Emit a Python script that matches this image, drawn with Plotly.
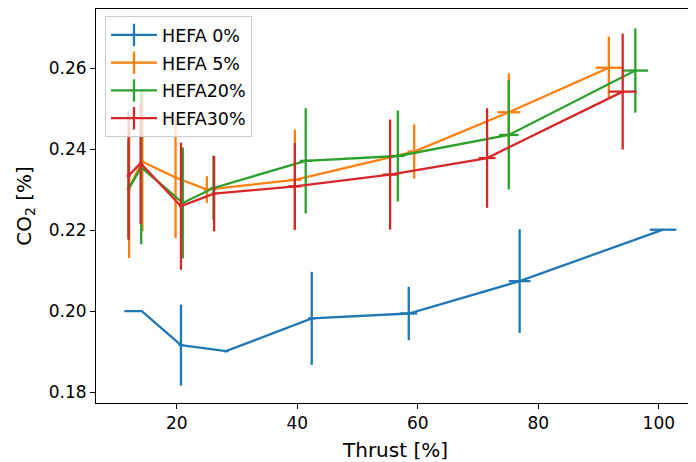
import plotly.graph_objects as go

# Thrust [%], CO2 [%] and error bars
thrust_0 = [11.3, 14.2, 20.7, 28.2, 42.4, 58.5, 76.9, 100.7]
co2_0 = [0.2000, 0.2000, 0.1916, 0.1901, 0.1982, 0.1994, 0.2074, 0.2201]
yerr_0 = [0, 0, 0.0100, 0, 0.0115, 0.0066, 0.0128, 0]
xerr_0 = [0, 0, 0.4, 0.4, 0.6, 1.4, 1.8, 2.2]

thrust_5 = [12.1, 14.3, 19.8, 25.0, 39.6, 59.4, 75.1, 91.7]
co2_5 = [0.2306, 0.2369, 0.2330, 0.2300, 0.2324, 0.2394, 0.2491, 0.2601]
yerr_5 = [0.0175, 0.0172, 0.0150, 0.0033, 0.0124, 0.0067, 0.0096, 0.0077]
xerr_5 = [0.3, 0.3, 0.3, 0.5, 1.0, 1.1, 1.9, 2.2]

thrust_20 = [12.0, 14.1, 21.0, 26.1, 41.4, 56.7, 75.1, 96.1]
co2_20 = [0.2301, 0.2355, 0.2267, 0.2304, 0.2371, 0.2383, 0.2435, 0.2594]
yerr_20 = [0.0120, 0.0190, 0.0137, 0.0080, 0.0130, 0.0112, 0.0135, 0.0104]
xerr_20 = [0.3, 0.3, 0.3, 0.5, 1.0, 1.1, 1.6, 2.1]

thrust_30 = [12.0, 14.0, 20.7, 26.2, 39.6, 55.4, 71.5, 94.0]
co2_30 = [0.2334, 0.2365, 0.2259, 0.2290, 0.2308, 0.2337, 0.2378, 0.2542]
yerr_30 = [0.0158, 0.0150, 0.0157, 0.0093, 0.0107, 0.0136, 0.0123, 0.0143]
xerr_30 = [0.3, 0.3, 0.3, 0.4, 1.1, 1.2, 1.4, 2.3]

series = [
    ('HEFA 0%', thrust_0, co2_0, xerr_0, yerr_0, '#1f77b4'),
    ('HEFA 5%', thrust_5, co2_5, xerr_5, yerr_5, '#ff7f0e'),
    ('HEFA20%', thrust_20, co2_20, xerr_20, yerr_20, '#2ca02c'),
    ('HEFA30%', thrust_30, co2_30, xerr_30, yerr_30, '#d62728'),
]

fig = go.Figure()

for name, x, y, xe, ye, c in series:
    fig.add_trace(go.Scatter(
        x=x, y=y, mode='lines', name=name, showlegend=False,
        line=dict(color=c, width=2.3),
        error_y=dict(type='data', array=ye, color=c, thickness=2.3, width=0),
        error_x=dict(type='data', array=xe, color=c, thickness=2.3, width=0),
    ))

# legend-only entries, so the key shows the errorbar cross like matplotlib
for i, (name, x, y, xe, ye, c) in enumerate(series):
    fig.add_trace(go.Scatter(
        x=[None], y=[None], mode='lines+markers', name=name,
        legendgroup=str(i),
        line=dict(color=c, width=2.3),
        marker=dict(symbol='line-ns-open', size=16, color=c,
                    line=dict(color=c, width=2.3)),
    ))

axis_style = dict(
    showline=True, mirror=True, linecolor='black', linewidth=1,
    ticks='outside', ticklen=5, tickcolor='black', tickwidth=1,
    showgrid=False, zeroline=False, automargin=False,
)

# the page body adds an 8px margin, so the figure is a bit smaller than the window
fig.update_layout(
    width=688, height=455,
    margin=dict(l=88, r=1, t=1, b=60),
    paper_bgcolor='white', plot_bgcolor='white',
    font=dict(family='DejaVu Sans', size=17, color='black'),
    legend=dict(
        x=0.015, y=0.982, xanchor='left', yanchor='top',
        bgcolor='rgba(255,255,255,0.8)', bordercolor='#cccccc', borderwidth=1,
        tracegroupgap=2, itemwidth=46, traceorder='grouped',
        font=dict(size=17.5),
    ),
    xaxis=dict(range=[6.6, 106.0], tickvals=[20, 40, 60, 80, 100],
               title=dict(text='Thrust [%]', standoff=10), **axis_style),
    yaxis=dict(range=[0.1773, 0.2746], tickvals=[0.18, 0.20, 0.22, 0.24, 0.26],
               tickformat='.2f',
               title=dict(text='CO<sub>2</sub> [%]', standoff=11), **axis_style),
)

fig.write_html("out.html")
